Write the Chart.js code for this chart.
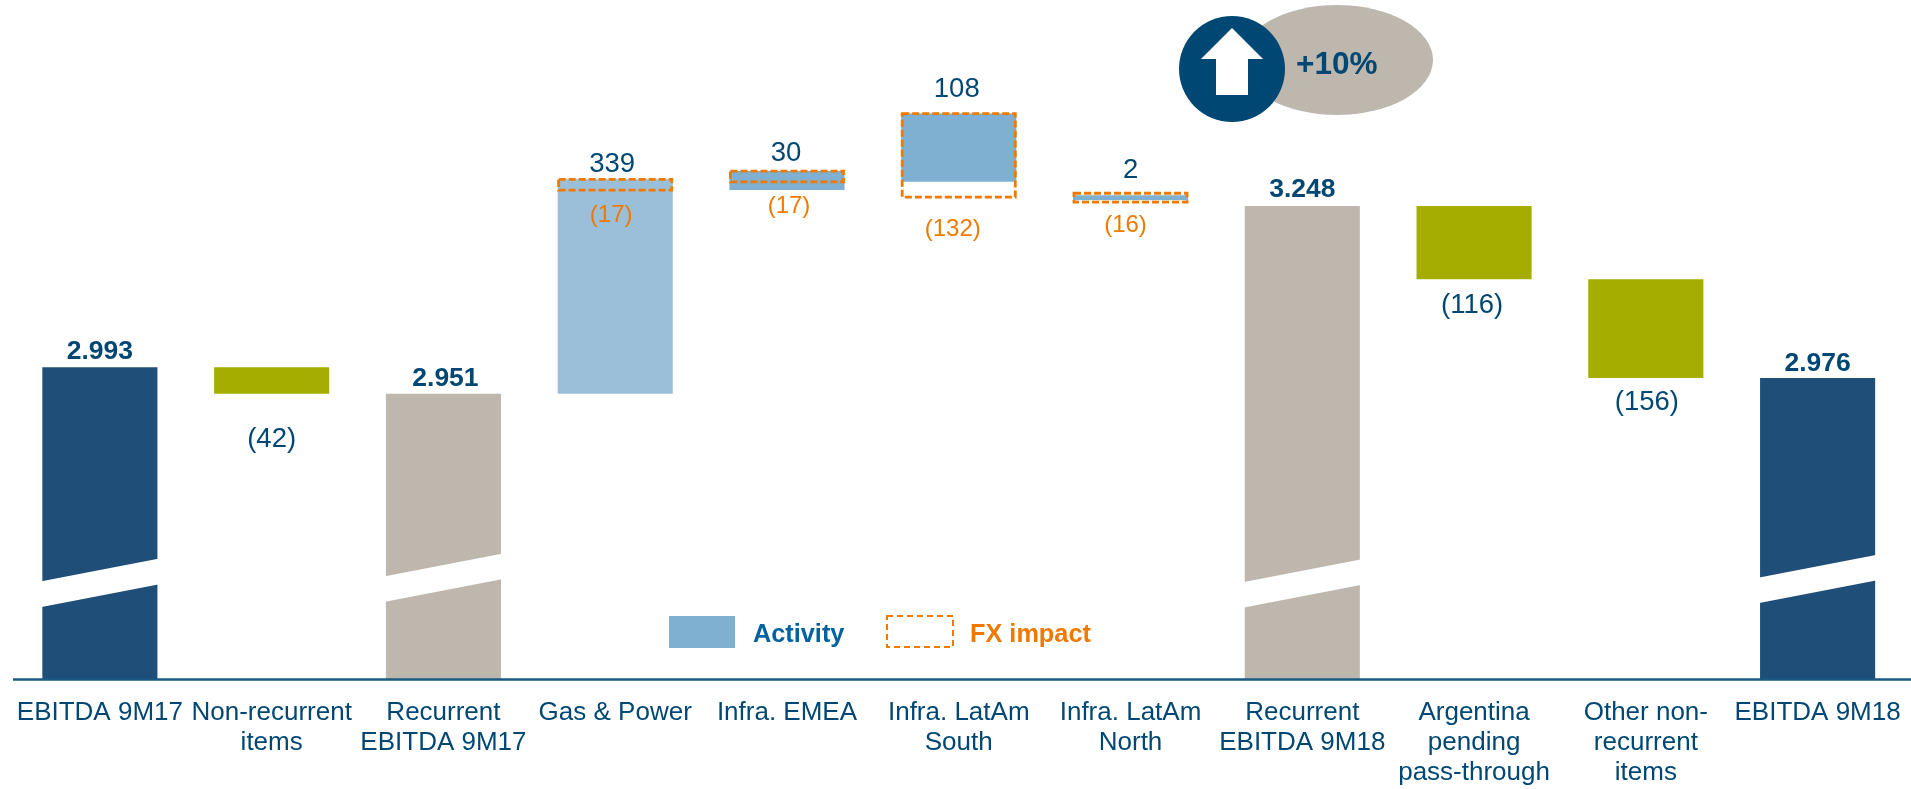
<!DOCTYPE html>
<html>
<head>
<meta charset="utf-8">
<style>
html,body{margin:0;padding:0;background:#fff;}
#wrap{width:1911px;height:789px;position:relative;}
</style>
<script src="https://cdn.jsdelivr.net/npm/chart.js@4/dist/chart.umd.min.js"></script>
</head>
<body>
<div id="wrap"><canvas id="c" width="1911" height="789"></canvas></div>
<script>
// ---- data ----
const categories = [
  ["EBITDA 9M17"],
  ["Non-recurrent","items"],
  ["Recurrent","EBITDA 9M17"],
  ["Gas & Power"],
  ["Infra. EMEA"],
  ["Infra. LatAm","South"],
  ["Infra. LatAm","North"],
  ["Recurrent","EBITDA 9M18"],
  ["Argentina","pending","pass-through"],
  ["Other non-","recurrent","items"],
  ["EBITDA 9M18"]
];
const barLow  = [2500, 2951, 2500, 2951, 3273, 3286, 3257, 2500, 3132, 2976, 2500];
const barHigh = [2993, 2993, 2951, 3290, 3303, 3394, 3259, 3248, 3248, 3132, 2976];
const fxLow   = [null, null, null, 3273, 3286, 3262, 3254, null, null, null, null];
const fxHigh  = [null, null, null, 3290, 3303, 3394, 3268, null, null, null, null];
const barLabels = ["2.993","(42)","2.951","339","30","108","2","3.248","(116)","(156)","2.976"];
const fxLabels  = [null,null,null,"(17)","(17)","(132)","(16)",null,null,null,null];
const breakValues = [2652, null, 2660, null, null, null, null, 2651, null, null, 2658];
const legendLabels = ["Activity","FX impact"];
const badgeText = "+10%";

// ---- style ----
const NAVY="#004774", DARK="#1F4E79", TAN="#BEB7AD", OLIVE="#A5AD00", BLUE="#7FAFD1", LIGHT="#9BBFD9", ORANGE="#F07A00";
const barColors = [DARK,OLIVE,TAN,LIGHT,BLUE,BLUE,BLUE,TAN,OLIVE,OLIVE,DARK];
const FONT='"Liberation Sans", Arial, sans-serif';
const boldLabel = [true,false,true,false,false,false,false,true,false,false,true];
// pixel distance from the bar edge to the label centre, and sideways nudge
const barLabelOffset = {0:-15,1:46,2:-15,3:-15,4:-18,5:-24,6:-25,7:-16,8:26,9:24,10:-14};
const barLabelShift  = {2:2,3:-3,4:-1,5:-2,8:-2,9:1};
const fxLabelOffset  = {3:25,4:25,5:32,6:23};
const fxLabelShift   = {3:-4,4:2,5:-6,6:-5};

const overlay = {
  id:'overlay',
  afterDatasetsDraw(chart){
    const {ctx,scales:{x,y}} = chart;
    const bars = chart.getDatasetMeta(0).data;
    const fx = chart.getDatasetMeta(1).data;
    ctx.save();
    // axis-break bands
    ctx.fillStyle='#fff';
    breakValues.forEach((v,i)=>{
      if(v==null) return;
      const b=bars[i], cy=y.getPixelForValue(v), hw=b.width/2+2, rise=11.5, gap=12.8;
      ctx.beginPath();
      ctx.moveTo(b.x-hw,cy+rise-gap);
      ctx.lineTo(b.x+hw,cy-rise-gap);
      ctx.lineTo(b.x+hw,cy-rise+gap);
      ctx.lineTo(b.x-hw,cy+rise+gap);
      ctx.closePath(); ctx.fill();
    });
    // FX dashed boxes
    ctx.strokeStyle=ORANGE; ctx.lineWidth=2.8; ctx.setLineDash([7,3]);
    fxLow.forEach((v,i)=>{
      if(v==null) return;
      const e=fx[i], w=e.width-2;
      ctx.strokeRect(e.x-w/2,Math.min(e.y,e.base),w,Math.abs(e.base-e.y));
    });
    ctx.setLineDash([]);
    // axis line running to the page edge
    ctx.strokeStyle='#1A5A84'; ctx.lineWidth=2.5;
    ctx.beginPath(); ctx.moveTo(x.left-1,y.bottom+0.5); ctx.lineTo(chart.width,y.bottom+0.5); ctx.stroke();
    // value labels
    ctx.textAlign='center'; ctx.textBaseline='middle';
    barLabels.forEach((t,i)=>{
      const e=bars[i], off=barLabelOffset[i];
      const edge = off<0 ? Math.min(e.y,e.base) : Math.max(e.y,e.base);
      ctx.font=boldLabel[i] ? 'bold 26.5px '+FONT : '27.5px '+FONT;
      ctx.fillStyle=NAVY;
      ctx.fillText(t,e.x+(barLabelShift[i]||0),edge+off);
    });
    ctx.font='24px '+FONT; ctx.fillStyle=ORANGE;
    fxLabels.forEach((t,i)=>{
      if(!t) return;
      const e=fx[i];
      ctx.fillText(t,e.x+fxLabelShift[i],Math.max(e.y,e.base)+fxLabelOffset[i]);
    });
    // legend
    ctx.fillStyle=BLUE; ctx.fillRect(669,616,66,32);
    ctx.textAlign='left'; ctx.font='bold 25.3px '+FONT;
    ctx.fillStyle='#0062A0'; ctx.fillText(legendLabels[0],753,635);
    ctx.strokeStyle=ORANGE; ctx.lineWidth=2; ctx.setLineDash([6,4]);
    ctx.strokeRect(887,616,66,31); ctx.setLineDash([]);
    ctx.fillStyle=ORANGE; ctx.fillText(legendLabels[1],970,635);
    // +10% badge
    ctx.fillStyle=TAN; ctx.beginPath(); ctx.ellipse(1337,60,96,55,0,0,Math.PI*2); ctx.fill();
    ctx.fillStyle=NAVY; ctx.beginPath(); ctx.arc(1232,69,53,0,Math.PI*2); ctx.fill();
    ctx.fillStyle='#fff'; ctx.beginPath();
    [[1232,28],[1263,59],[1248,59],[1248,95],[1216,95],[1216,59],[1201,59]].forEach((p,i)=>i?ctx.lineTo(p[0],p[1]):ctx.moveTo(p[0],p[1]));
    ctx.closePath(); ctx.fill();
    ctx.fillStyle=NAVY; ctx.font='bold 31.5px '+FONT; ctx.fillText(badgeText,1296,65);
    ctx.restore();
  }
};

new Chart(document.getElementById('c'),{
  type:'bar',
  data:{
    labels:categories,
    datasets:[
      {label:legendLabels[0],data:barLow.map((v,i)=>[v,barHigh[i]]),backgroundColor:barColors,borderWidth:0,
       grouped:false,barPercentage:0.67,categoryPercentage:1,order:2,minBarLength:5},
      {label:legendLabels[1],data:fxLow.map((v,i)=>v==null?null:[v,fxHigh[i]]),backgroundColor:'rgba(0,0,0,0)',borderWidth:0,
       grouped:false,barPercentage:0.67,categoryPercentage:1,order:1}
    ]
  },
  plugins:[overlay],
  options:{
    responsive:false,animation:false,
    layout:{padding:{left:14,right:7.5,top:0,bottom:0}},
    plugins:{legend:{display:false},tooltip:{enabled:false}},
    scales:{
      x:{
        afterFit(s){s.height=110;s.paddingLeft=0;s.paddingRight=0;},
        grid:{display:false,drawTicks:false},
        border:{display:false},
        ticks:{color:NAVY,font:{family:FONT,size:26,lineHeight:1.165},padding:18.5,maxRotation:0,minRotation:0,autoSkip:false}
      },
      y:{display:false,min:2500,max:3573.5}
    }
  }
});
</script>
</body>
</html>
